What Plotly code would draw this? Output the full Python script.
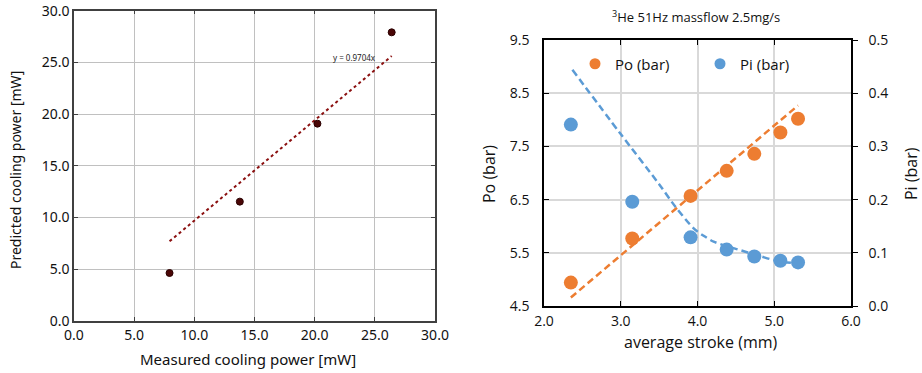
import plotly.graph_objects as go

# ---- Left panel data ----
measured = [7.94, 13.78, 20.23, 26.40]
predicted = [4.64, 11.54, 19.08, 27.91]
fit_slope = 0.9704
fit_label = "y = 0.9704x"
left_ticks = [0, 5, 10, 15, 20, 25, 30]

# ---- Right panel data ----
stroke = [2.35, 3.15, 3.91, 4.38, 4.74, 5.08, 5.31]
po = [4.94, 5.77, 6.57, 7.04, 7.36, 7.76, 8.02]
pi = [0.341, 0.196, 0.129, 0.106, 0.093, 0.085, 0.082]
po_trend_x = [2.35, 5.31]
po_trend_y = [4.66, 8.27]
pi_trend_x = [2.37, 2.99, 3.50, 3.71, 3.95, 4.08, 4.21, 4.51, 4.81, 5.03, 5.31]
pi_trend_y = [0.444, 0.325, 0.229, 0.187, 0.146, 0.132, 0.121, 0.107, 0.094, 0.085, 0.080]
x_ticks_r = [2, 3, 4, 5, 6]
po_ticks = [4.5, 5.5, 6.5, 7.5, 8.5, 9.5]
pi_ticks = [0.0, 0.1, 0.2, 0.3, 0.4, 0.5]

W, H = 922, 373
def px(x): return x / W
def py(y): return (H - y) / H

ORANGE = "#ED7D31"
BLUE = "#5B9BD5"
MAROON = "#4a0606"
LFONT = "Noto Sans"
RFONT = "Open Sans"

fig = go.Figure()

# left panel
fit_x = [min(measured), max(measured)]
fit_y = [fit_slope * v for v in fit_x]
fig.add_trace(go.Scatter(x=fit_x, y=fit_y, mode="lines",
                         line=dict(color="#8b1010", width=2, dash="dot"),
                         xaxis="x", yaxis="y", showlegend=False, hoverinfo="skip"))
fig.add_trace(go.Scatter(x=measured, y=predicted, mode="markers",
                         marker=dict(color=MAROON, size=7, line=dict(color="#2a0000", width=1)),
                         xaxis="x", yaxis="y", showlegend=False))

# right panel
fig.add_trace(go.Scatter(x=po_trend_x, y=po_trend_y, mode="lines",
                         line=dict(color=ORANGE, width=2.5, dash="7px,4px"),
                         xaxis="x2", yaxis="y2", showlegend=False, hoverinfo="skip"))
fig.add_trace(go.Scatter(x=pi_trend_x, y=pi_trend_y, mode="lines",
                         line=dict(color=BLUE, width=2.5, dash="7px,4px", shape="spline", smoothing=0.8),
                         xaxis="x2", yaxis="y3", showlegend=False, hoverinfo="skip"))
fig.add_trace(go.Scatter(x=stroke, y=po, mode="markers", name="Po (bar)",
                         marker=dict(color=ORANGE, size=14),
                         xaxis="x2", yaxis="y2", showlegend=False))
fig.add_trace(go.Scatter(x=stroke, y=pi, mode="markers", name="Pi (bar)",
                         marker=dict(color=BLUE, size=14),
                         xaxis="x2", yaxis="y3", showlegend=False))
# legend-only entries
fig.add_trace(go.Scatter(x=[None], y=[None], mode="markers", name="Po (bar)",
                         marker=dict(color=ORANGE, size=11), xaxis="x2", yaxis="y2"))
fig.add_trace(go.Scatter(x=[None], y=[None], mode="markers", name="Pi (bar)",
                         marker=dict(color=BLUE, size=11), xaxis="x2", yaxis="y3"))

lax = dict(showline=True, linecolor="#404040", linewidth=1.5, mirror="ticks",
           ticks="inside", ticklen=4, tickcolor="#404040", automargin=False,
           showgrid=True, gridcolor="#c0c0c0", gridwidth=1, zeroline=False,
           tickformat=".1f", tickfont=dict(family=LFONT, size=14, color="#111"))
rax = dict(showline=True, linecolor="#000", linewidth=1.5, automargin=False,
           ticks="inside", ticklen=5, tickcolor="#000",
           showgrid=True, gridcolor="#d9d9d9", gridwidth=1.5, zeroline=False,
           tickformat=".1f", tickfont=dict(family=RFONT, size=14, color="#111"))

def note(text, x, y, size, family, angle=0, color="#111"):
    return dict(text=text, x=px(x), y=py(y), xref="paper", yref="paper", showarrow=False,
                xanchor="center", yanchor="middle", textangle=angle,
                font=dict(family=family, size=size, color=color))

fig.update_layout(
    width=W, height=H, margin=dict(l=0, r=0, t=0, b=0, autoexpand=False),
    paper_bgcolor="white", plot_bgcolor="white",
    xaxis=dict(domain=[px(74), px(435)], range=[0, 30], tickvals=left_ticks, anchor="y", **lax),
    yaxis=dict(domain=[py(321), py(10.7)], range=[0, 30], tickvals=left_ticks, anchor="x", **lax),
    xaxis2=dict(domain=[px(544), px(851)], range=[2, 6], tickvals=x_ticks_r, anchor="y2",
                mirror="ticks", ticklabelstandoff=1, **rax),
    yaxis2=dict(domain=[py(306), py(40)], range=[4.5, 9.5], tickvals=po_ticks, anchor="x2",
                ticklabelstandoff=10, **rax),
    yaxis3=dict(range=[0, 0.5], tickvals=pi_ticks, overlaying="y2", side="right", anchor="x2",
                showline=True, linecolor="#000", linewidth=1.5, ticks="outside", ticklen=5,
                tickcolor="#000", showgrid=False, zeroline=False, tickformat=".1f", automargin=False,
                ticklabelstandoff=8, tickfont=dict(family=RFONT, size=14, color="#111")),
    legend=dict(orientation="h", x=px(575), y=py(64), xanchor="left", yanchor="middle",
                font=dict(family=RFONT, size=15, color="#111"), bgcolor="rgba(0,0,0,0)",
                entrywidth=80, entrywidthmode="pixels"),
    annotations=[
        note(fit_label, 354, 57, 8, LFONT, color="#222"),
        note("Predicted cooling power [mW]", 15, 170, 14, LFONT, angle=-90),
        note("Measured cooling power [mW]", 248, 359, 15, LFONT),
        note("<sup>3</sup>He 51Hz massflow 2.5mg/s", 696, 16, 13, RFONT),
        note("Po (bar)", 489, 174, 16, RFONT, angle=-90),
        note("Pi (bar)", 911, 174, 16, RFONT, angle=-90),
        note("average stroke (mm)", 701, 342, 16, RFONT),
    ],
)

fig.write_html("out.html")
